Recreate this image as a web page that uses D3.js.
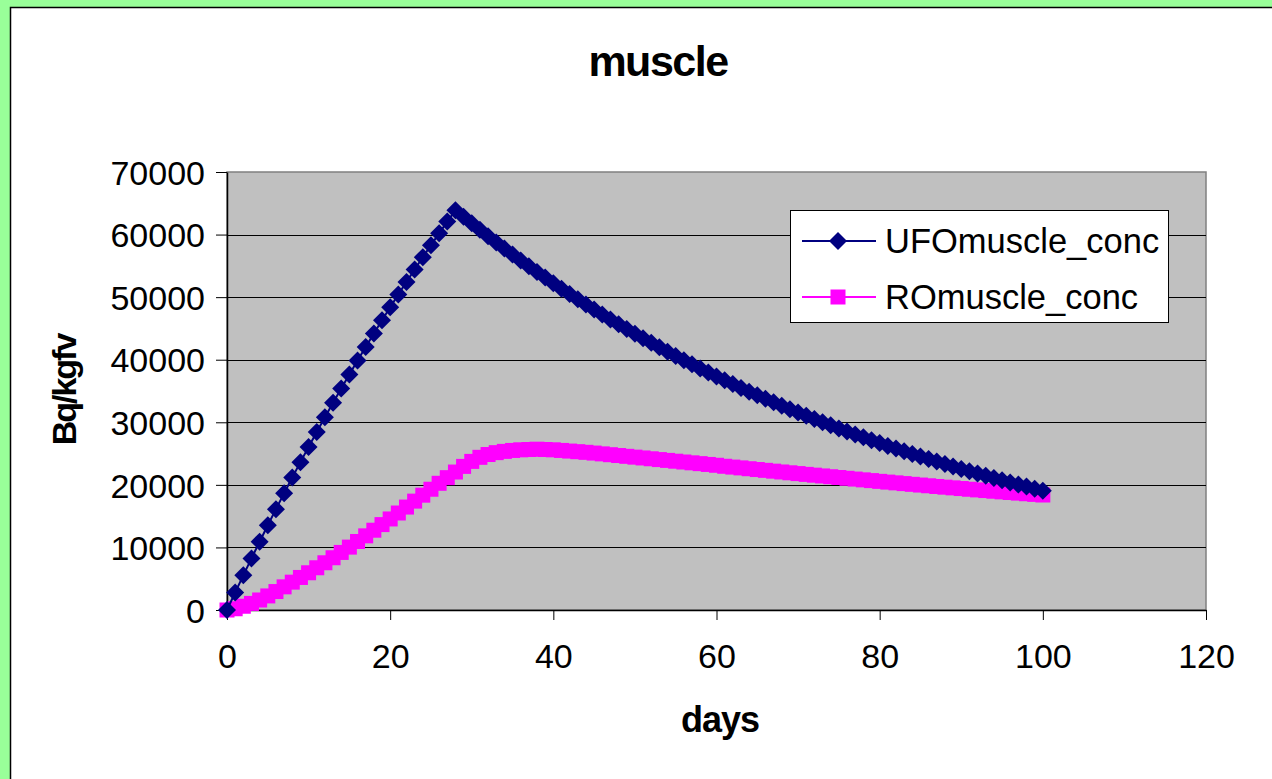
<!DOCTYPE html>
<html>
<head>
<meta charset="utf-8">
<script src="https://d3js.org/d3.v7.min.js"></script>
<style>
  body { margin: 0; background: #99ff99; }
  text { font-family: "Liberation Sans", Arial, sans-serif; fill: #000; }
  .axis path, .axis line { stroke: #000; }
  .grid line { stroke: #000; stroke-width: 1px; }
</style>
</head>
<body>
<svg width="1272" height="779"></svg>
<script>
// data: one value per day
var days = d3.range(0, 101);

var ufoMuscle = [
  0, 2790, 5540, 8250, 10910, 13540, 16120, 18660, 21170, 23630,
  26060, 28450, 30810, 33120, 35400, 37650, 39870, 42040, 44190, 46300,
  48380, 50430, 52440, 54430, 56380, 58310, 60200, 62070, 63900, 62840,
  61790, 60760, 59750, 58750, 57770, 56810, 55860, 54930, 54020, 53120,
  52230, 51360, 50510, 49670, 48840, 48030, 47230, 46440, 45670, 44900,
  44160, 43420, 42700, 41990, 41290, 40600, 39920, 39260, 38600, 37960,
  37330, 36710, 36100, 35490, 34900, 34320, 33750, 33190, 32630, 32090,
  31560, 31030, 30510, 30010, 29510, 29010, 28530, 28060, 27590, 27130,
  26680, 26230, 25800, 25370, 24940, 24530, 24120, 23720, 23320, 22930,
  22550, 22180, 21810, 21440, 21090, 20730, 20390, 20050, 19720, 19390,
  19060
];

var roMuscle = [
  0, 200, 600, 1050, 1600, 2250, 2950, 3700, 4450, 5200,
  5950, 6750, 7550, 8350, 9200, 10050, 10950, 11850, 12750, 13650,
  14550, 15500, 16450, 17400, 18350, 19300, 20250, 21150, 22050, 22950,
  23750, 24400, 24850, 25150, 25350, 25500, 25600, 25650, 25700, 25650,
  25600, 25500, 25400, 25300, 25200, 25080, 24950, 24820, 24690, 24560,
  24430, 24300, 24170, 24040, 23910, 23780, 23650, 23520, 23390, 23260,
  23130, 22970, 22840, 22710, 22580, 22450, 22320, 22190, 22060, 21930,
  21800, 21675, 21550, 21425, 21300, 21175, 21050, 20925, 20800, 20680,
  20560, 20440, 20320, 20200, 20085, 19970, 19855, 19740, 19630, 19520,
  19410, 19300, 19195, 19090, 18985, 18880, 18780, 18680, 18580, 18480,
  18380
];

var seriesNames = ["UFOmuscle_conc", "ROmuscle_conc"];
var xTicks = [0, 20, 40, 60, 80, 100, 120];
var yTicks = [0, 10000, 20000, 30000, 40000, 50000, 60000, 70000];

var svg = d3.select("svg");

// chart area (white box with black frame)
svg.append("rect")
  .attr("x", 10.5).attr("y", 7.5)
  .attr("width", 1300).attr("height", 800)
  .attr("fill", "#fff").attr("stroke", "#000").attr("stroke-width", 1.5);

var plotLeft = 227, plotRight = 1206, plotTop = 172, plotBottom = 610;

var x = d3.scaleLinear().domain([0, 120]).range([plotLeft, plotRight]);
var y = d3.scaleLinear().domain([0, 70000]).range([plotBottom, plotTop]);

// plot area
svg.append("rect")
  .attr("x", plotLeft).attr("y", plotTop)
  .attr("width", plotRight - plotLeft).attr("height", plotBottom - plotTop)
  .attr("fill", "#c0c0c0").attr("stroke", "#808080").attr("stroke-width", 1.5);

svg.append("g").attr("class", "grid")
  .selectAll("line")
  .data(yTicks.slice(1, -1))
  .enter().append("line")
  .attr("x1", plotLeft).attr("x2", plotRight)
  .attr("y1", function(d) { return Math.round(y(d)) + 0.5; })
  .attr("y2", function(d) { return Math.round(y(d)) + 0.5; });

var xAxis = svg.append("g").attr("class", "axis")
  .attr("transform", "translate(0," + plotBottom + ")")
  .call(d3.axisBottom(x).tickValues(xTicks).tickSize(10).tickSizeOuter(0).tickPadding(24));
xAxis.selectAll("text").style("font-size", "34px");
xAxis.select(".domain").attr("stroke-width", 1.5);

var yAxis = svg.append("g").attr("class", "axis")
  .attr("transform", "translate(" + plotLeft + ",0)")
  .call(d3.axisLeft(y).tickValues(yTicks).tickSize(11).tickSizeOuter(0).tickPadding(11)
    .tickFormat(d3.format("d")));
yAxis.selectAll("text").style("font-size", "34px").attr("dy", "0.36em");
yAxis.select(".domain").attr("stroke-width", 1.5);

// series
var line = d3.line()
  .x(function(d, i) { return x(days[i]); })
  .y(function(d) { return y(d); });

var sq = 15;
svg.append("path").datum(roMuscle)
  .attr("fill", "none").attr("stroke", "#ff00ff").attr("stroke-width", 2)
  .attr("d", line);

svg.append("g").selectAll("rect")
  .data(roMuscle)
  .enter().append("rect")
  .attr("x", function(d, i) { return x(days[i]) - sq / 2; })
  .attr("y", function(d) { return y(d) - sq / 2; })
  .attr("width", sq).attr("height", sq)
  .attr("fill", "#ff00ff");

svg.append("path").datum(ufoMuscle)
  .attr("fill", "none").attr("stroke", "#000080").attr("stroke-width", 2)
  .attr("d", line);

var diamond = "M0,-9L9,0L0,9L-9,0Z";
svg.append("g").selectAll("path")
  .data(ufoMuscle)
  .enter().append("path")
  .attr("d", diamond)
  .attr("transform", function(d, i) { return "translate(" + x(days[i]) + "," + y(d) + ")"; })
  .attr("fill", "#000080");

// legend
var legend = svg.append("g");
legend.append("rect")
  .attr("x", 790.5).attr("y", 210.5)
  .attr("width", 378).attr("height", 112)
  .attr("fill", "#fff").attr("stroke", "#000").attr("stroke-width", 1);

var legendY = [241, 297];
var legendColors = ["#000080", "#ff00ff"];
seriesNames.forEach(function(name, i) {
  legend.append("line")
    .attr("x1", 802).attr("x2", 876)
    .attr("y1", legendY[i]).attr("y2", legendY[i])
    .attr("stroke", legendColors[i]).attr("stroke-width", 2);
  if (i === 0) {
    legend.append("path").attr("d", diamond)
      .attr("transform", "translate(838," + legendY[i] + ")")
      .attr("fill", legendColors[i]);
  } else {
    legend.append("rect")
      .attr("x", 838 - sq / 2).attr("y", legendY[i] - sq / 2)
      .attr("width", sq).attr("height", sq)
      .attr("fill", legendColors[i]);
  }
  legend.append("text")
    .attr("x", 885).attr("y", legendY[i] + 12)
    .style("font-size", "34.5px")
    .text(name);
});

// titles
svg.append("text")
  .attr("x", 658).attr("y", 76)
  .attr("text-anchor", "middle")
  .style("font-size", "43px").style("font-weight", "bold").style("letter-spacing", "-1.5px")
  .text("muscle");

svg.append("text")
  .attr("x", 720).attr("y", 732)
  .attr("text-anchor", "middle")
  .style("font-size", "36px").style("font-weight", "bold").style("letter-spacing", "-1px")
  .text("days");

svg.append("text")
  .attr("transform", "translate(76,390) rotate(-90)")
  .attr("text-anchor", "middle")
  .style("font-size", "34px").style("font-weight", "bold").style("letter-spacing", "-2px")
  .text("Bq/kgfv");
</script>
</body>
</html>
